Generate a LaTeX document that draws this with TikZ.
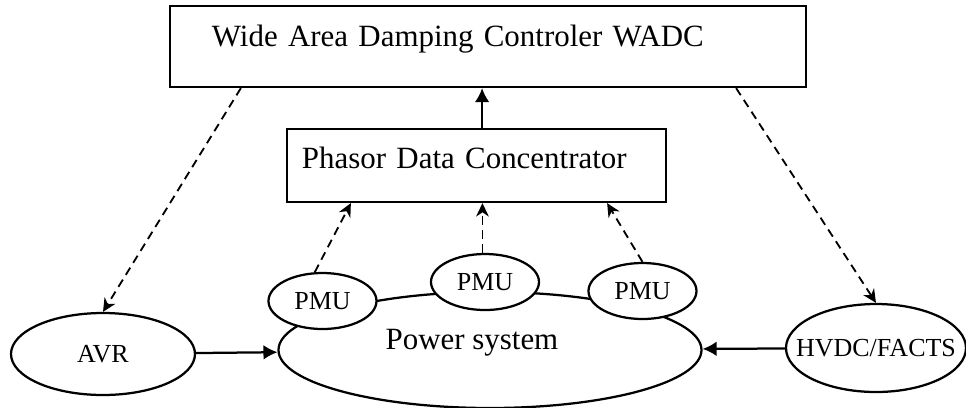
\documentclass[tikz,border=0pt]{standalone}
\usepackage{fontspec}
\setmainfont{Liberation Serif}
\usetikzlibrary{shapes.geometric, arrows.meta}
\newcommand{\largetxt}{\fontsize{22}{27}\selectfont}
\newcommand{\smalltxt}{\fontsize{18.5}{22}\selectfont}
\tikzstyle{box} = [draw, line width=1.6pt, fill=white, align=left, inner ysep=0pt, font=\largetxt]
\tikzstyle{wadcbox} = [box, text width=13.8cm, inner xsep=1.05cm, minimum width=15.9cm, minimum height=2.025cm, text height=0.7em, text depth=0.7em]
\tikzstyle{pdcbox} = [box, text width=8.725cm, inner xsep=0.375cm, minimum width=9.475cm, minimum height=1.825cm, text height=0.683em, text depth=0.21em]
\tikzstyle{unit} = [draw, ellipse, line width=1.6pt, fill=white, inner sep=0pt]
\tikzstyle{pmu} = [unit, minimum width=2.7cm, minimum height=1.4cm]
\tikzstyle{avr} = [unit, minimum width=4.6cm, minimum height=2.05cm]
\tikzstyle{hvdc} = [unit, minimum width=4.5cm, minimum height=2.2cm]
\tikzstyle{grid} = [unit, minimum width=10.575cm, minimum height=2.9cm]
\tikzstyle{sline} = [draw, line width=1.6pt, -{Latex[length=10pt, width=10.5pt]}]
\tikzstyle{dline} = [draw, line width=1.3pt, dash pattern=on 6pt off 4pt, -{Stealth[length=9.5pt, width=9pt, inset=3pt]}]
\newcommand{\unit}[3]{
node (#1) [#2, label={center:#3}] {}}
\newcommand{\measure}[2]{
  \path [dline] (#1) -- (#2);}

\begin{document}
\begin{tikzpicture}[every label/.style={font=\smalltxt}]
		\useasboundingbox (-12.2, 1.1625) rectangle (11.95, -9.0125);

		% Draw diagram elements
		\path node (wadc)[wadcbox] {Wide Area Damping Controler WADC};
		\path (wadc)+(-0.2875, -2.975) node (pdc)[pdcbox] {Phasor Data Concentrator};
		\path (wadc)+(0.05, -7.5875) node (ps)[grid, label={[font=\largetxt, xshift=-0.45cm, yshift=0.185cm]center:Power system}] {};
		\path (ps)+(-9.675, -0.1) \unit{avr}{avr}{AVR};
		\path (ps)+(9.65, 0.05) \unit{hvdc}{hvdc}{HVDC/FACTS};
		\path (pdc)+(-3.85, -3.3875) \unit{pmu1}{pmu}{PMU};
		\path (pdc)+(0.2125, -2.9125) \unit{pmu2}{pmu}{PMU};
		\path (pdc)+(4.15, -3.1375) \unit{pmu3}{pmu}{PMU};

		% Draw arrows between elements
		\coordinate (up) at ([xshift=0.14cm]pdc.north);
		\path [sline] (up) -- (up |- wadc.south);
		\path [dline] ([xshift=1.8cm]wadc.south west) -- (avr.north);
		\path [dline] ([xshift=-1.775cm]wadc.south east) -- (hvdc.north);
		\measure{pmu1.105}{[xshift=1.625cm]pdc.south west}
		\measure{pmu2.95}{pmu2.95 |- pdc.south}
		\measure{pmu3.north}{[xshift=-1.5cm]pdc.south east}
		\path [sline] (avr) -- (ps);
		\path [sline] (hvdc) -- (ps);

\end{tikzpicture}
\end{document}
